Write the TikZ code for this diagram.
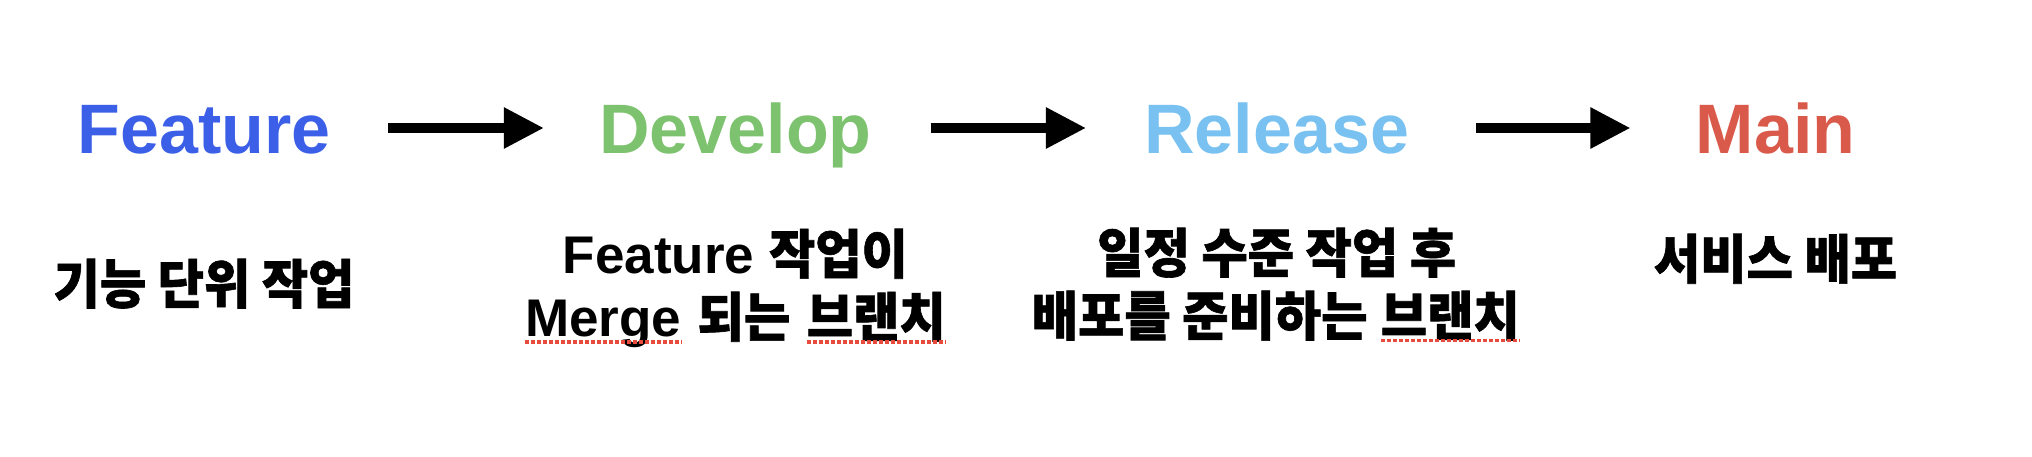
\documentclass[tikz,border=0pt]{standalone}
\usepackage{fontspec}
\usepackage{xcolor}
\usepackage{tikz}
\usetikzlibrary{positioning,arrows.meta}
\setmainfont{Liberation Sans}
\newfontfamily\ko[FakeStretch=0.95, FakeBold=1.2]{Noto Sans CJK KR}
\definecolor{featblue}{HTML}{3C5FE8}
\definecolor{devgreen}{HTML}{7DC26E}
\definecolor{relblue}{HTML}{78C1F0}
\definecolor{mainred}{HTML}{D9594A}
\definecolor{typored}{HTML}{E84B3C}
\newcommand{\typo}[1]{\tikz[baseline=(t.base)]{\node[inner sep=0pt, outer sep=0pt] (t) {#1};
  \draw[typored, line width=1.8pt, dash pattern=on 2pt off 1pt] ([yshift=-2.6pt]t.base west) -- ([yshift=-2.6pt]t.base east);}}

\begin{document}
\begin{tikzpicture}[
  title/.style={inner sep=0pt, text height=25pt, text depth=0pt, font=\fontsize{35}{42}\selectfont\bfseries},
  desc/.style={inner sep=0pt, align=center, font=\fontsize{26.5}{31.5}\selectfont\bfseries},
  arr/.style={-{Triangle[length=20pt, width=19.5pt]}, line width=4.5pt, color=black}
]
\useasboundingbox (0,0) rectangle (1016pt,228pt);
\node[title, text=featblue] (feature) at (102pt,164pt) {Feature};
\node[title, text=devgreen, right=134pt of feature] (develop) {Develop};
\node[title, text=relblue, right=136pt of develop] (release) {Release};
\node[title, text=mainred, right=143pt of release] (main) {Main};

\node[desc, below=52.5pt of feature] (featdesc) {\ko 기능 단위 작업};
\node[desc, below=37.5pt of develop] (devdesc) {Feature {\ko 작업이}\\\typo{Merge} {\ko 되는} \typo{\ko 브랜치}};
\node[desc, below=37pt of release] (reldesc) {\ko 일정 수준 작업 후\\\ko 배포를 준비하는 \typo{\ko 브랜치}};
\node[desc, below=40pt of main] (maindesc) {\ko 서비스 배포};

\draw[arr, shorten <=28.5pt, shorten >=27.5pt] (feature) -- (develop);
\draw[arr, shorten <=29.5pt, shorten >=29pt] (develop) -- (release);
\draw[arr, shorten <=33.5pt, shorten >=32.5pt] (release) -- (main);
\end{tikzpicture}
\end{document}
